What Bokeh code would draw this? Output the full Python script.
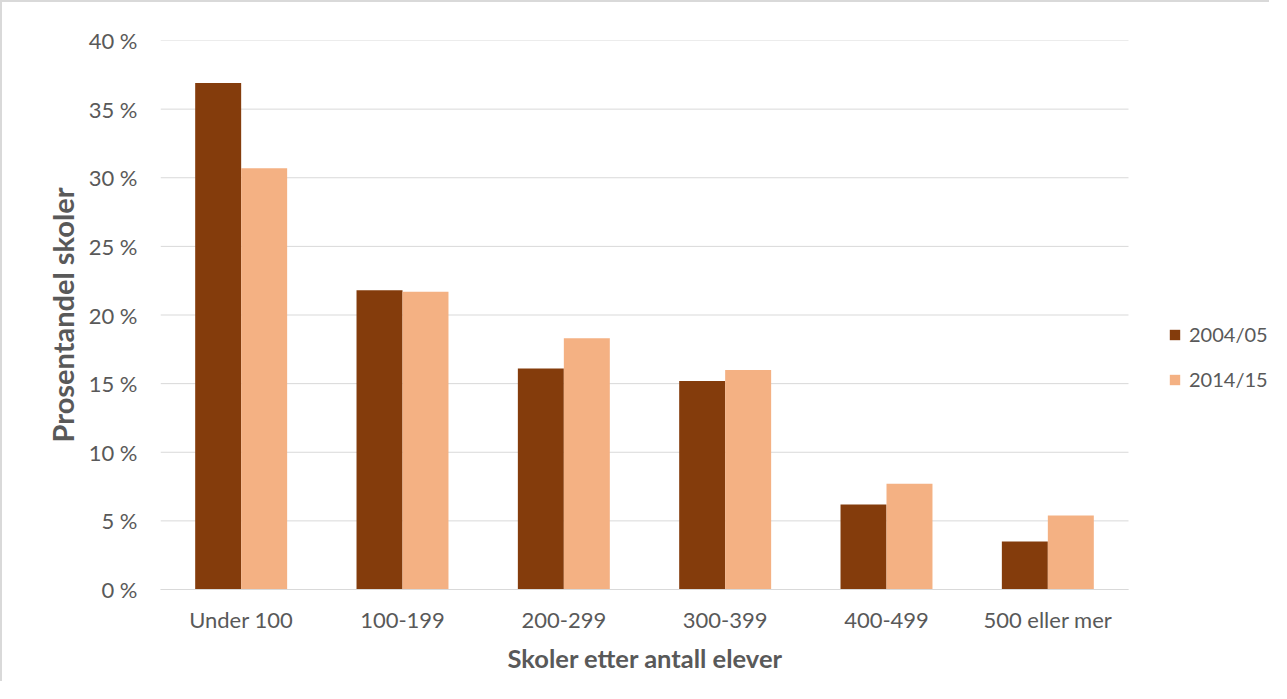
from bokeh.plotting import figure
from bokeh.models import FixedTicker, Legend, LegendItem, ColumnDataSource, Range1d, Title
from bokeh.embed import file_html
from bokeh.resources import INLINE

categories = ["Under 100", "100-199", "200-299", "300-399", "400-499", "500 eller mer"]
series_names = ["2004/05", "2014/15"]
values_2004 = [36.9, 21.8, 16.1, 15.2, 6.2, 3.5]
values_2014 = [30.7, 21.7, 18.3, 16.0, 7.7, 5.4]
y_ticks = [0, 5, 10, 15, 20, 25, 30, 35, 40]
y_tick_labels = ["0 %", "5 %", "10 %", "15 %", "20 %", "25 %", "30 %", "35 %", "40 %"]
x_title = "Skoler etter antall elever"
y_title = "Prosentandel skoler"

colors = ["#843C0C", "#F4B183"]
grid_color = "#d9d9d9"
text_color = "#595959"
font = "Lato"

# layout (pixels)
W, H = 1269, 681
LEFT, TOP, RIGHT, BOTTOM = 158, 38, 0, 94
CAT_PX = 968 / len(categories)          # width of one category slot in px
frame_w = W - LEFT - RIGHT
x_end = frame_w / CAT_PX                 # extra room on the right holds the legend

n = len(categories)
centers = [i + 0.5 for i in range(n)]
bw = 0.285

src1 = ColumnDataSource(dict(x=[c - bw / 2 for c in centers], top=values_2004))
src2 = ColumnDataSource(dict(x=[c + bw / 2 for c in centers], top=values_2014))

p = figure(
    x_range=Range1d(0, x_end),
    y_range=Range1d(0, 40),
    width=W, height=H,
    output_backend="svg", toolbar_location=None,
    min_border_left=LEFT, min_border_top=TOP, min_border_right=RIGHT, min_border_bottom=BOTTOM,
)
p.styles = {"border-left": "2px solid #d9d9d9", "border-top": "2px solid #d9d9d9"}

# gridlines limited to the category area
p.segment(x0=[0] * len(y_ticks), x1=[n] * len(y_ticks), y0=y_ticks, y1=y_ticks,
          line_color=grid_color, line_width=1)

r1 = p.vbar(x="x", top="top", width=bw, source=src1, fill_color=colors[0], line_color=None)
r2 = p.vbar(x="x", top="top", width=bw, source=src2, fill_color=colors[1], line_color=None)

p.outline_line_color = None
p.xgrid.grid_line_color = None
p.ygrid.grid_line_color = None

p.yaxis.ticker = FixedTicker(ticks=y_ticks)
p.yaxis.major_label_overrides = {t: l for t, l in zip(y_ticks, y_tick_labels)}
p.yaxis.axis_line_color = None
p.yaxis.major_tick_line_color = None
p.yaxis.minor_tick_line_color = None
p.yaxis.major_label_standoff = 17
p.yaxis.axis_label = y_title
p.yaxis.axis_label_text_font_size = "29px"
p.yaxis.axis_label_text_font_style = "bold"
p.yaxis.axis_label_standoff = 6

p.xaxis.ticker = FixedTicker(ticks=centers)
p.xaxis.major_label_overrides = {c: l for c, l in zip(centers, categories)}
p.xaxis.bounds = (0, n)
p.xaxis.axis_line_color = grid_color
p.xaxis.major_tick_line_color = None
p.xaxis.minor_tick_line_color = None
p.xaxis.major_label_standoff = 10

for ax in (p.xaxis, p.yaxis):
    ax.major_label_text_font = font
    ax.major_label_text_font_size = "22px"
    ax.major_label_text_color = text_color
    ax.axis_label_text_font = font
    ax.axis_label_text_color = text_color

# x-axis title centred under the category area (not the whole frame)
xt = Title(text=x_title, align="left", offset=347, vertical_align="top", standoff=14,
           text_font=font, text_font_size="25.5px", text_font_style="bold",
           text_color=text_color)
p.add_layout(xt, "below")

legend = Legend(
    items=[LegendItem(label=series_names[0], renderers=[r1]),
           LegendItem(label=series_names[1], renderers=[r2])],
    location=(1008, 197),
    orientation="vertical",
    glyph_width=13, glyph_height=13,
    label_text_font=font, label_text_font_size="20px", label_text_color=text_color,
    label_standoff=8, label_height=26, spacing=19,
    padding=0, margin=0,
    border_line_color=None, background_fill_alpha=0,
)
p.add_layout(legend, "center")

open("out.html", "w").write(file_html(p, INLINE))
